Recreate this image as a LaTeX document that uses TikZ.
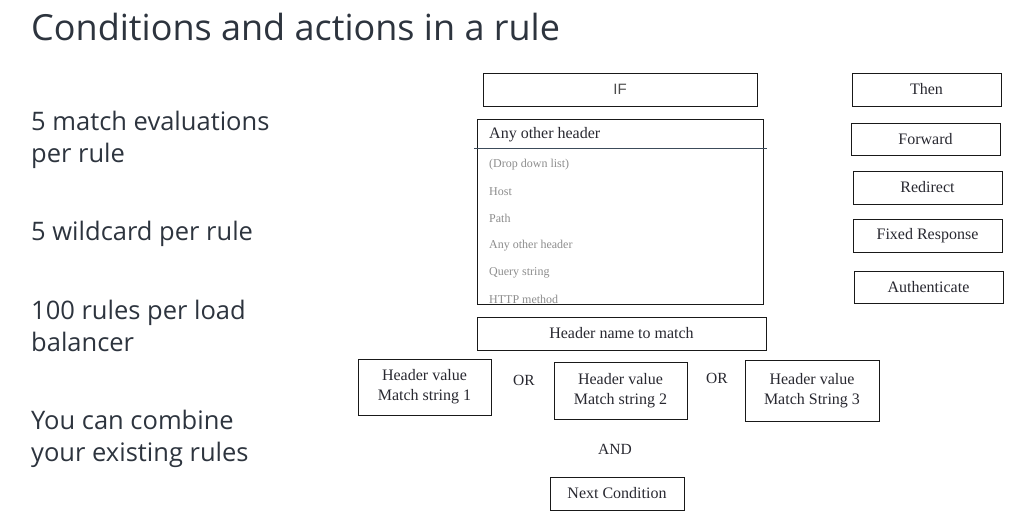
\documentclass[tikz,border=0pt]{standalone}
\usepackage{fontspec}
\setmainfont{Liberation Serif}
\newfontfamily\uisans{Open Sans}
\newfontfamily\arialish{Liberation Sans}
\definecolor{slate}{RGB}{45,52,62}
\definecolor{boxtext}{RGB}{40,40,48}
\definecolor{lightgray}{RGB}{140,140,140}
\definecolor{rulecol}{RGB}{60,75,90}
\begin{document}
\begin{tikzpicture}[x=1pt,y=-1pt,
  box/.style={draw=black!90,line width=1pt,inner sep=0pt,align=center,text=boxtext,font=\fontsize{16}{20}\selectfont},
  lefttext/.style={anchor=west,inner sep=0pt,text=slate,align=left,font=\uisans\fontsize{25.5}{32}\selectfont},
  item/.style={anchor=west,inner sep=0pt,text=lightgray,font=\fontsize{12}{14}\selectfont},
  conj/.style={inner sep=0pt,text=boxtext,font=\fontsize{15.5}{18}\selectfont}]
\useasboundingbox (0,0) rectangle (1015,517);
% title and left text
\node[lefttext,anchor=base west,font=\uisans\fontsize{36}{42}\selectfont] (title) at (31,40) {Conditions and actions in a rule};
\node[lefttext] (t1) at (31,140) {5 match evaluations\\per rule};
\node[lefttext] (t2) at (31,234) {5 wildcard per rule};
\node[lefttext] (t3) at (31,326) {100 rules per load\\balancer};
\node[lefttext] (t4) at (31,439) {You can combine\\your existing rules};
% IF column
\node[box,minimum width=274pt,minimum height=33pt,font=\arialish\fontsize{15}{17}\selectfont,text=black!70] (if) at (620,89.5) {IF};
\node[draw=black!90,line width=1pt,minimum width=286pt,minimum height=185pt,inner sep=0pt] (dd) at (620,211.5) {};
\node[anchor=west,inner sep=0pt,text=boxtext,font=\fontsize{16}{18}\selectfont] (sel) at (489,135) {Any other header};
\coordinate (la) at (474,148);
\coordinate (lb) at (767,148);
\draw[rulecol,line width=0.9pt] (la) -- (lb);
\node[item] (i1) at (489,164.5) {(Drop down list)};
\node[item] (i2) at (489,191.5) {Host};
\node[item] (i3) at (489,218.5) {Path};
\node[item] (i4) at (489,245.5) {Any other header};
\node[item] (i5) at (489,272.5) {Query string};
\node[item] (i6) at (489,299.5) {HTTP method};
\node[box,minimum width=289pt,minimum height=33pt] (hn) at (621.5,333.5) {Header name to match};
\node[box,minimum width=133pt,minimum height=56pt] (hv1) at (424.5,387) {Header value\\Match string 1};
\node[conj] (or1) at (524,380) {OR};
\node[box,minimum width=133pt,minimum height=57pt] (hv2) at (620.5,390.5) {Header value\\Match string 2};
\node[conj] (or2) at (717,378) {OR};
\node[box,minimum width=134pt,minimum height=61pt] (hv3) at (812,390.5) {Header value\\Match String 3};
\node[conj] (and) at (615,449) {AND};
\node[box,minimum width=134pt,minimum height=33pt] (nc) at (617,493.5) {Next Condition};
% Then column
\node[box,minimum width=149pt,minimum height=33pt] (then) at (926.5,89.5) {Then};
\node[box,minimum width=149pt,minimum height=32pt] (fw) at (925.5,139) {Forward};
\node[box,minimum width=149pt,minimum height=33pt] (rd) at (927.5,187.5) {Redirect};
\node[box,minimum width=149pt,minimum height=33pt] (fr) at (927.5,235.5) {Fixed Response};
\node[box,minimum width=149pt,minimum height=32pt] (au) at (928.5,287) {Authenticate};
\end{tikzpicture}
\end{document}
